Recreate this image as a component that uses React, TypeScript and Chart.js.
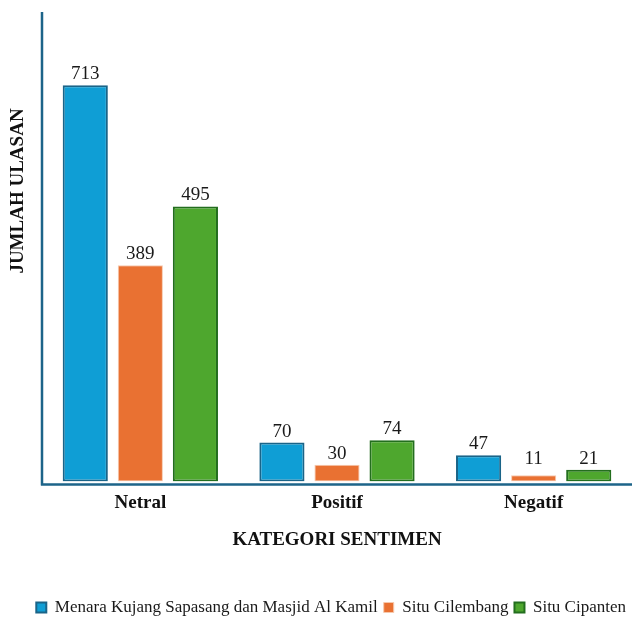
import React, { useEffect, useRef } from "react";
import { Chart, registerables } from "chart.js";

Chart.register(...registerables);

const categories = ["Netral", "Positif", "Negatif"];
const seriesNames = ["Menara Kujang Sapasang dan Masjid Al Kamil", "Situ Cilembang", "Situ Cipanten"];
const menaraValues = [713, 70, 47];
const cilembangValues = [389, 30, 11];
const cipantenValues = [495, 74, 21];
const xTitle = "KATEGORI SENTIMEN";
const yTitle = "JUMLAH ULASAN";

const FONT = "'Liberation Serif', 'Times New Roman', serif";
const AXIS_COLOR = "#1D6489";

const axisLinesPlugin = {
  id: "axisLines",
  afterDatasetsDraw(chart: any) {
    const { ctx, chartArea } = chart;
    ctx.save();
    ctx.strokeStyle = AXIS_COLOR;
    ctx.lineWidth = 2.5;
    ctx.beginPath();
    ctx.moveTo(chartArea.left, chartArea.top);
    ctx.lineTo(chartArea.left, chartArea.bottom + 4);
    ctx.moveTo(chartArea.left - 1, chartArea.bottom + 3);
    ctx.lineTo(chartArea.right, chartArea.bottom + 3);
    ctx.stroke();
    ctx.restore();
  },
};

const valueLabelsPlugin = {
  id: "valueLabels",
  afterDatasetsDraw(chart: any) {
    const { ctx, chartArea } = chart;
    ctx.save();
    ctx.font = `19px ${FONT}`;
    ctx.fillStyle = "#1a1a1a";
    ctx.textAlign = "center";
    ctx.textBaseline = "alphabetic";
    chart.data.datasets.forEach((ds: any, di: number) => {
      const meta = chart.getDatasetMeta(di);
      meta.data.forEach((bar: any, i: number) => {
        const y = Math.min(bar.y - 6, chartArea.bottom - 17);
        ctx.fillText(String(ds.data[i]), bar.x, y);
      });
    });
    ctx.restore();
  },
};

const yTitlePlugin = {
  id: "yTitle",
  afterDraw(chart: any) {
    const { ctx } = chart;
    ctx.save();
    ctx.translate(18, 191);
    ctx.rotate(-Math.PI / 2);
    ctx.font = `bold 19px ${FONT}`;
    ctx.fillStyle = "#111";
    ctx.textAlign = "center";
    ctx.textBaseline = "middle";
    ctx.fillText(yTitle, 0, 0);
    ctx.restore();
  },
};

export default function App() {
  const ref = useRef<HTMLCanvasElement | null>(null);

  useEffect(() => {
    document.body.style.margin = "0";
    if (!ref.current) return;
    const chart = new Chart(ref.current, {
      type: "bar",
      data: {
        labels: categories,
        datasets: [
          {
            label: seriesNames[0],
            data: menaraValues,
            backgroundColor: "#0F9ED5",
            borderColor: "#1A6488",
            borderWidth: 2,
            borderSkipped: false,
          },
          {
            label: seriesNames[1],
            data: cilembangValues,
            backgroundColor: "#E97132",
            borderColor: "#F6C9AE",
            borderWidth: 1,
            borderSkipped: false,
          },
          {
            label: seriesNames[2],
            data: cipantenValues,
            backgroundColor: "#4EA72E",
            borderColor: "#236E1E",
            borderWidth: 2,
            borderSkipped: false,
          },
        ],
      },
      options: {
        responsive: false,
        animation: false,
        layout: { padding: { left: 0, right: 2, top: 12, bottom: 0 } },
        datasets: {
          bar: { categoryPercentage: 0.84, barPercentage: 0.82 },
        },
        scales: {
          x: {
            grid: { display: false, drawTicks: false },
            border: { display: false },
            ticks: {
              padding: 10,
              color: "#111",
              font: { family: FONT, size: 19, weight: "bold" },
            },
            title: {
              display: true,
              text: xTitle,
              color: "#111",
              font: { family: FONT, size: 19, weight: "bold" },
              padding: { top: 4, bottom: 42 },
            },
          },
          y: {
            display: true,
            min: 0,
            max: 845,
            grid: { display: false, drawTicks: false },
            border: { display: false },
            ticks: { display: false },
            afterFit: (scale: any) => {
              scale.width = 42;
            },
          },
        },
        plugins: {
          legend: {
            position: "bottom",
            align: "end",
            labels: {
              boxWidth: 10,
              boxHeight: 10,
              padding: 6,
              color: "#1a1a1a",
              font: { family: FONT, size: 17 },
            },
          },
          tooltip: { enabled: false },
        },
      },
      plugins: [axisLinesPlugin, valueLabelsPlugin, yTitlePlugin],
    });
    return () => chart.destroy();
  }, []);

  return (
    <div style={{ width: 634, height: 618, overflow: "hidden", position: "relative" }}>
      <canvas ref={ref} width={634} height={626} style={{ display: "block" }} />
    </div>
  );
}
